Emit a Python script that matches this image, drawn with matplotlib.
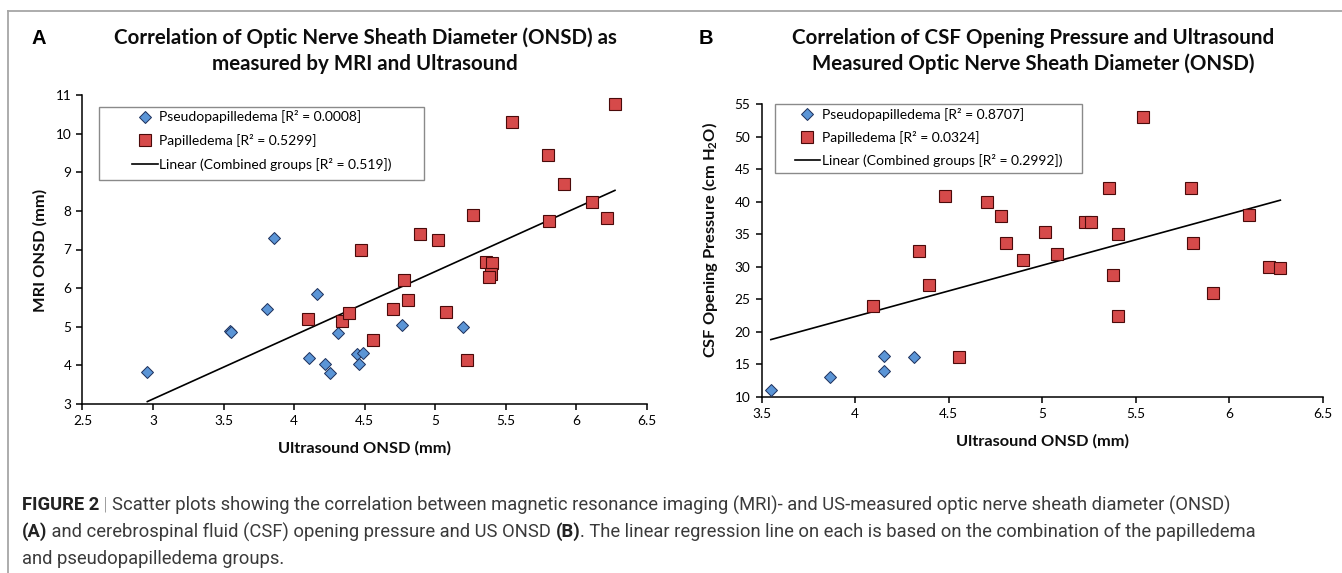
import numpy as np
import matplotlib
matplotlib.use("Agg")
import matplotlib.pyplot as plt
from matplotlib.patches import Rectangle
from matplotlib.lines import Line2D
from matplotlib.ticker import FuncFormatter

# ---------------- data ----------------
pseudo_A_x = [2.96, 3.545, 3.55, 3.806, 3.858, 4.104, 4.159, 4.22, 4.257, 4.313, 4.445, 4.463, 4.485, 4.761, 5.197]
pseudo_A_y = [3.84, 4.90, 4.86, 5.45, 7.31, 4.19, 5.85, 4.03, 3.79, 4.85, 4.29, 4.03, 4.33, 5.04, 4.99]
papil_A_x = [4.098, 4.337, 4.392, 4.475, 4.558, 4.703, 4.78, 4.804, 4.893, 5.016, 5.078, 5.228,
             5.265, 5.357, 5.40, 5.397, 5.382, 5.541, 5.797, 5.803, 5.913, 6.107, 6.214, 6.273]
papil_A_y = [5.19, 5.14, 5.35, 6.99, 4.65, 5.45, 6.20, 5.70, 7.40, 7.24, 5.39, 4.14,
             7.90, 6.68, 6.65, 6.37, 6.29, 10.31, 9.44, 7.73, 8.69, 8.23, 7.81, 10.76]

pseudo_B_x = [3.55, 3.866, 4.157, 4.157, 4.315]
pseudo_B_y = [11.03, 13.03, 16.26, 14.0, 16.05]
papil_B_x = [4.098, 4.340, 4.396, 4.48, 4.556, 4.705, 4.78, 4.805, 4.897, 5.015, 5.078, 5.227,
             5.261, 5.358, 5.38, 5.405, 5.405, 5.538, 5.796, 5.805, 5.913, 6.105, 6.213, 6.272]
papil_B_y = [24.0, 32.5, 27.2, 40.9, 16.05, 40.0, 37.8, 33.6, 31.0, 35.4, 32.0, 36.9,
             36.9, 42.1, 28.7, 35.0, 22.4, 53.0, 42.1, 33.7, 25.9, 38.0, 30.0, 29.8]

xticks_A = [2.5, 3, 3.5, 4, 4.5, 5, 5.5, 6, 6.5]
yticks_A = [3, 4, 5, 6, 7, 8, 9, 10, 11]
xticks_B = [3.5, 4, 4.5, 5, 5.5, 6, 6.5]
yticks_B = [10, 15, 20, 25, 30, 35, 40, 45, 50, 55]

legend_A = ["Pseudopapilledema [R\u00b2 = 0.0008]", "Papilledema [R\u00b2 = 0.5299]",
            "Linear (Combined groups [R\u00b2 = 0.519])"]
legend_B = ["Pseudopapilledema [R\u00b2 = 0.8707]", "Papilledema [R\u00b2 = 0.0324]",
            "Linear (Combined groups [R\u00b2 = 0.2992])"]

title_A = ["Correlation of Optic Nerve Sheath Diameter (ONSD) as", "measured by MRI and Ultrasound"]
title_B = ["Correlation of CSF Opening Pressure and Ultrasound", "Measured Optic Nerve Sheath Diameter (ONSD)"]

caption_lines = [
    [("FIGURE 2", "bold"), (" | ", "light"),
     ("Scatter plots showing the correlation between magnetic resonance imaging (MRI)- and US-measured optic nerve sheath diameter (ONSD)", "normal")],
    [("(A)", "bold"), (" and cerebrospinal fluid (CSF) opening pressure and US ONSD ", "normal"), ("(B)", "bold"),
     (". The linear regression line on each is based on the combination of the papilledema", "normal")],
    [("and pseudopapilledema groups.", "normal")],
]

# ---------------- style ----------------
plt.rcParams["font.family"] = ["Lato", "DejaVu Sans"]
plt.rcParams["mathtext.fontset"] = "custom"
plt.rcParams["mathtext.rm"] = "Lato"
plt.rcParams["mathtext.bf"] = "Lato:bold"

W, H = 1342, 573
fig = plt.figure(figsize=(W / 100, H / 100), dpi=100)
fig.patch.set_facecolor("white")


def rect(l, r, t, b):
    return [l / W, 1 - b / H, (r - l) / W, (b - t) / H]


BLUE_FC, BLUE_EC = "#5b95d6", "#1c2f5a"
RED_FC, RED_EC = "#d64a4a", "#4a0a0a"


def style_axes(ax, xt, yt, xlim, ylim):
    ax.set_xlim(*xlim)
    ax.set_ylim(*ylim)
    ax.set_xticks(xt)
    ax.set_yticks(yt)
    fmt = FuncFormatter(lambda v, p: f"{v:g}")
    ax.xaxis.set_major_formatter(fmt)
    ax.yaxis.set_major_formatter(fmt)
    for s in ("top", "right"):
        ax.spines[s].set_visible(False)
    for s in ("left", "bottom"):
        ax.spines[s].set_linewidth(1.1)
        ax.spines[s].set_color("black")
    ax.tick_params(direction="out", length=4, width=1.1, labelsize=9.8, pad=4)
    ax.set_facecolor("none")


def panel(ax, px, py, qx, qy, labels, box, leg_anchor, lspace):
    allx = np.array(px + qx)
    ally = np.array(py + qy)
    k, b = np.polyfit(allx, ally, 1)
    xs = np.array([allx.min(), allx.max()])
    ax.plot(xs, k * xs + b, color="black", lw=1.2, zorder=2)
    ax.plot(px, py, linestyle="none", marker="D", ms=5.8, mfc=BLUE_FC, mec=BLUE_EC, mew=0.7, zorder=3, clip_on=False)
    ax.plot(qx, qy, linestyle="none", marker="s", ms=8.2, mfc=RED_FC, mec=RED_EC, mew=0.8, zorder=3, clip_on=False)
    ax.add_patch(Rectangle((box[0], box[1]), box[2], box[3], transform=ax.transAxes,
                           facecolor="white", edgecolor="#8a8a8a", lw=1.0, zorder=5, clip_on=False))
    handles = [
        Line2D([], [], linestyle="none", marker="D", ms=5.8, mfc=BLUE_FC, mec=BLUE_EC, mew=0.7),
        Line2D([], [], linestyle="none", marker="s", ms=8.2, mfc=RED_FC, mec=RED_EC, mew=0.8),
        Line2D([], [], color="black", lw=1.2),
    ]
    leg = ax.legend(handles, labels, loc="upper left", bbox_to_anchor=leg_anchor, frameon=False,
                    fontsize=10.0, handlelength=1.85, handletextpad=0.12, labelspacing=lspace,
                    borderpad=0, borderaxespad=0)
    leg.set_zorder(6)


axA = fig.add_axes(rect(82.4, 647.0, 95, 404))
style_axes(axA, xticks_A, yticks_A, (2.5, 6.5), (3, 11))
panel(axA, pseudo_A_x, pseudo_A_y, papil_A_x, papil_A_y, legend_A,
      (0.029, 0.724, 0.576, 0.236), (0.088, 0.950), 0.78)

axB = fig.add_axes(rect(761.5, 1323, 104.3, 396.7))
style_axes(axB, xticks_B, yticks_B, (3.5, 6.5), (10, 55))
panel(axB, pseudo_B_x, pseudo_B_y, papil_B_x, papil_B_y, legend_B,
      (0.024, 0.766, 0.547, 0.234), (0.059, 0.988), 0.72)

# ---------------- texts ----------------
def ftext(x, y, s, **kw):
    return fig.text(x / W, 1 - y / H, s, **kw)

tkw = dict(ha="center", va="center", fontsize=14.8, fontweight="bold", color="#0d0d0d")
ftext(365, 38, title_A[0], **tkw)
ftext(365, 64, title_A[1], **tkw)
ftext(1033, 38, title_B[0], **tkw)
ftext(1033, 64, title_B[1], **tkw)

pkw = dict(ha="center", va="center", fontsize=14.5, fontweight="bold", family=["Liberation Sans", "DejaVu Sans"])
ftext(39, 38, "A", **pkw)
ftext(706, 38, "B", **pkw)

lkw = dict(ha="center", va="center", fontsize=11.8, fontweight="bold", color="#0d0d0d")
ftext(40, 250, "MRI ONSD (mm)", rotation=90, **lkw)
ftext(709.5, 240, r"CSF Opening Pressure (cm H$_\mathbf{2}$O)", rotation=90, **lkw)
ftext(364.7, 448, "Ultrasound ONSD (mm)", **lkw)
ftext(1042, 441, "Ultrasound ONSD (mm)", **lkw)

# figure frame lines (top and left)
fig.add_artist(Line2D([8 / W, 1.0], [1 - 11 / H, 1 - 11 / H], transform=fig.transFigure, color="#a6a6a6", lw=1.3))
fig.add_artist(Line2D([8 / W, 8 / W], [1 - 11 / H, 0.0], transform=fig.transFigure, color="#a6a6a6", lw=1.3))

# caption with mixed weights
renderer = fig.canvas.get_renderer()
cap_y = [505, 532, 559]
for yy, runs in zip(cap_y, caption_lines):
    x = 22.0
    for s, wgt in runs:
        t = ftext(x, yy, s, ha="left", va="center", fontsize=13.2, fontweight=wgt,
                  color="#222222" if wgt == "bold" else "#3a3a3a", family=["Roboto", "DejaVu Sans"])
        bb = t.get_window_extent(renderer)
        x += bb.width

fig.savefig("out.png", dpi=100)
